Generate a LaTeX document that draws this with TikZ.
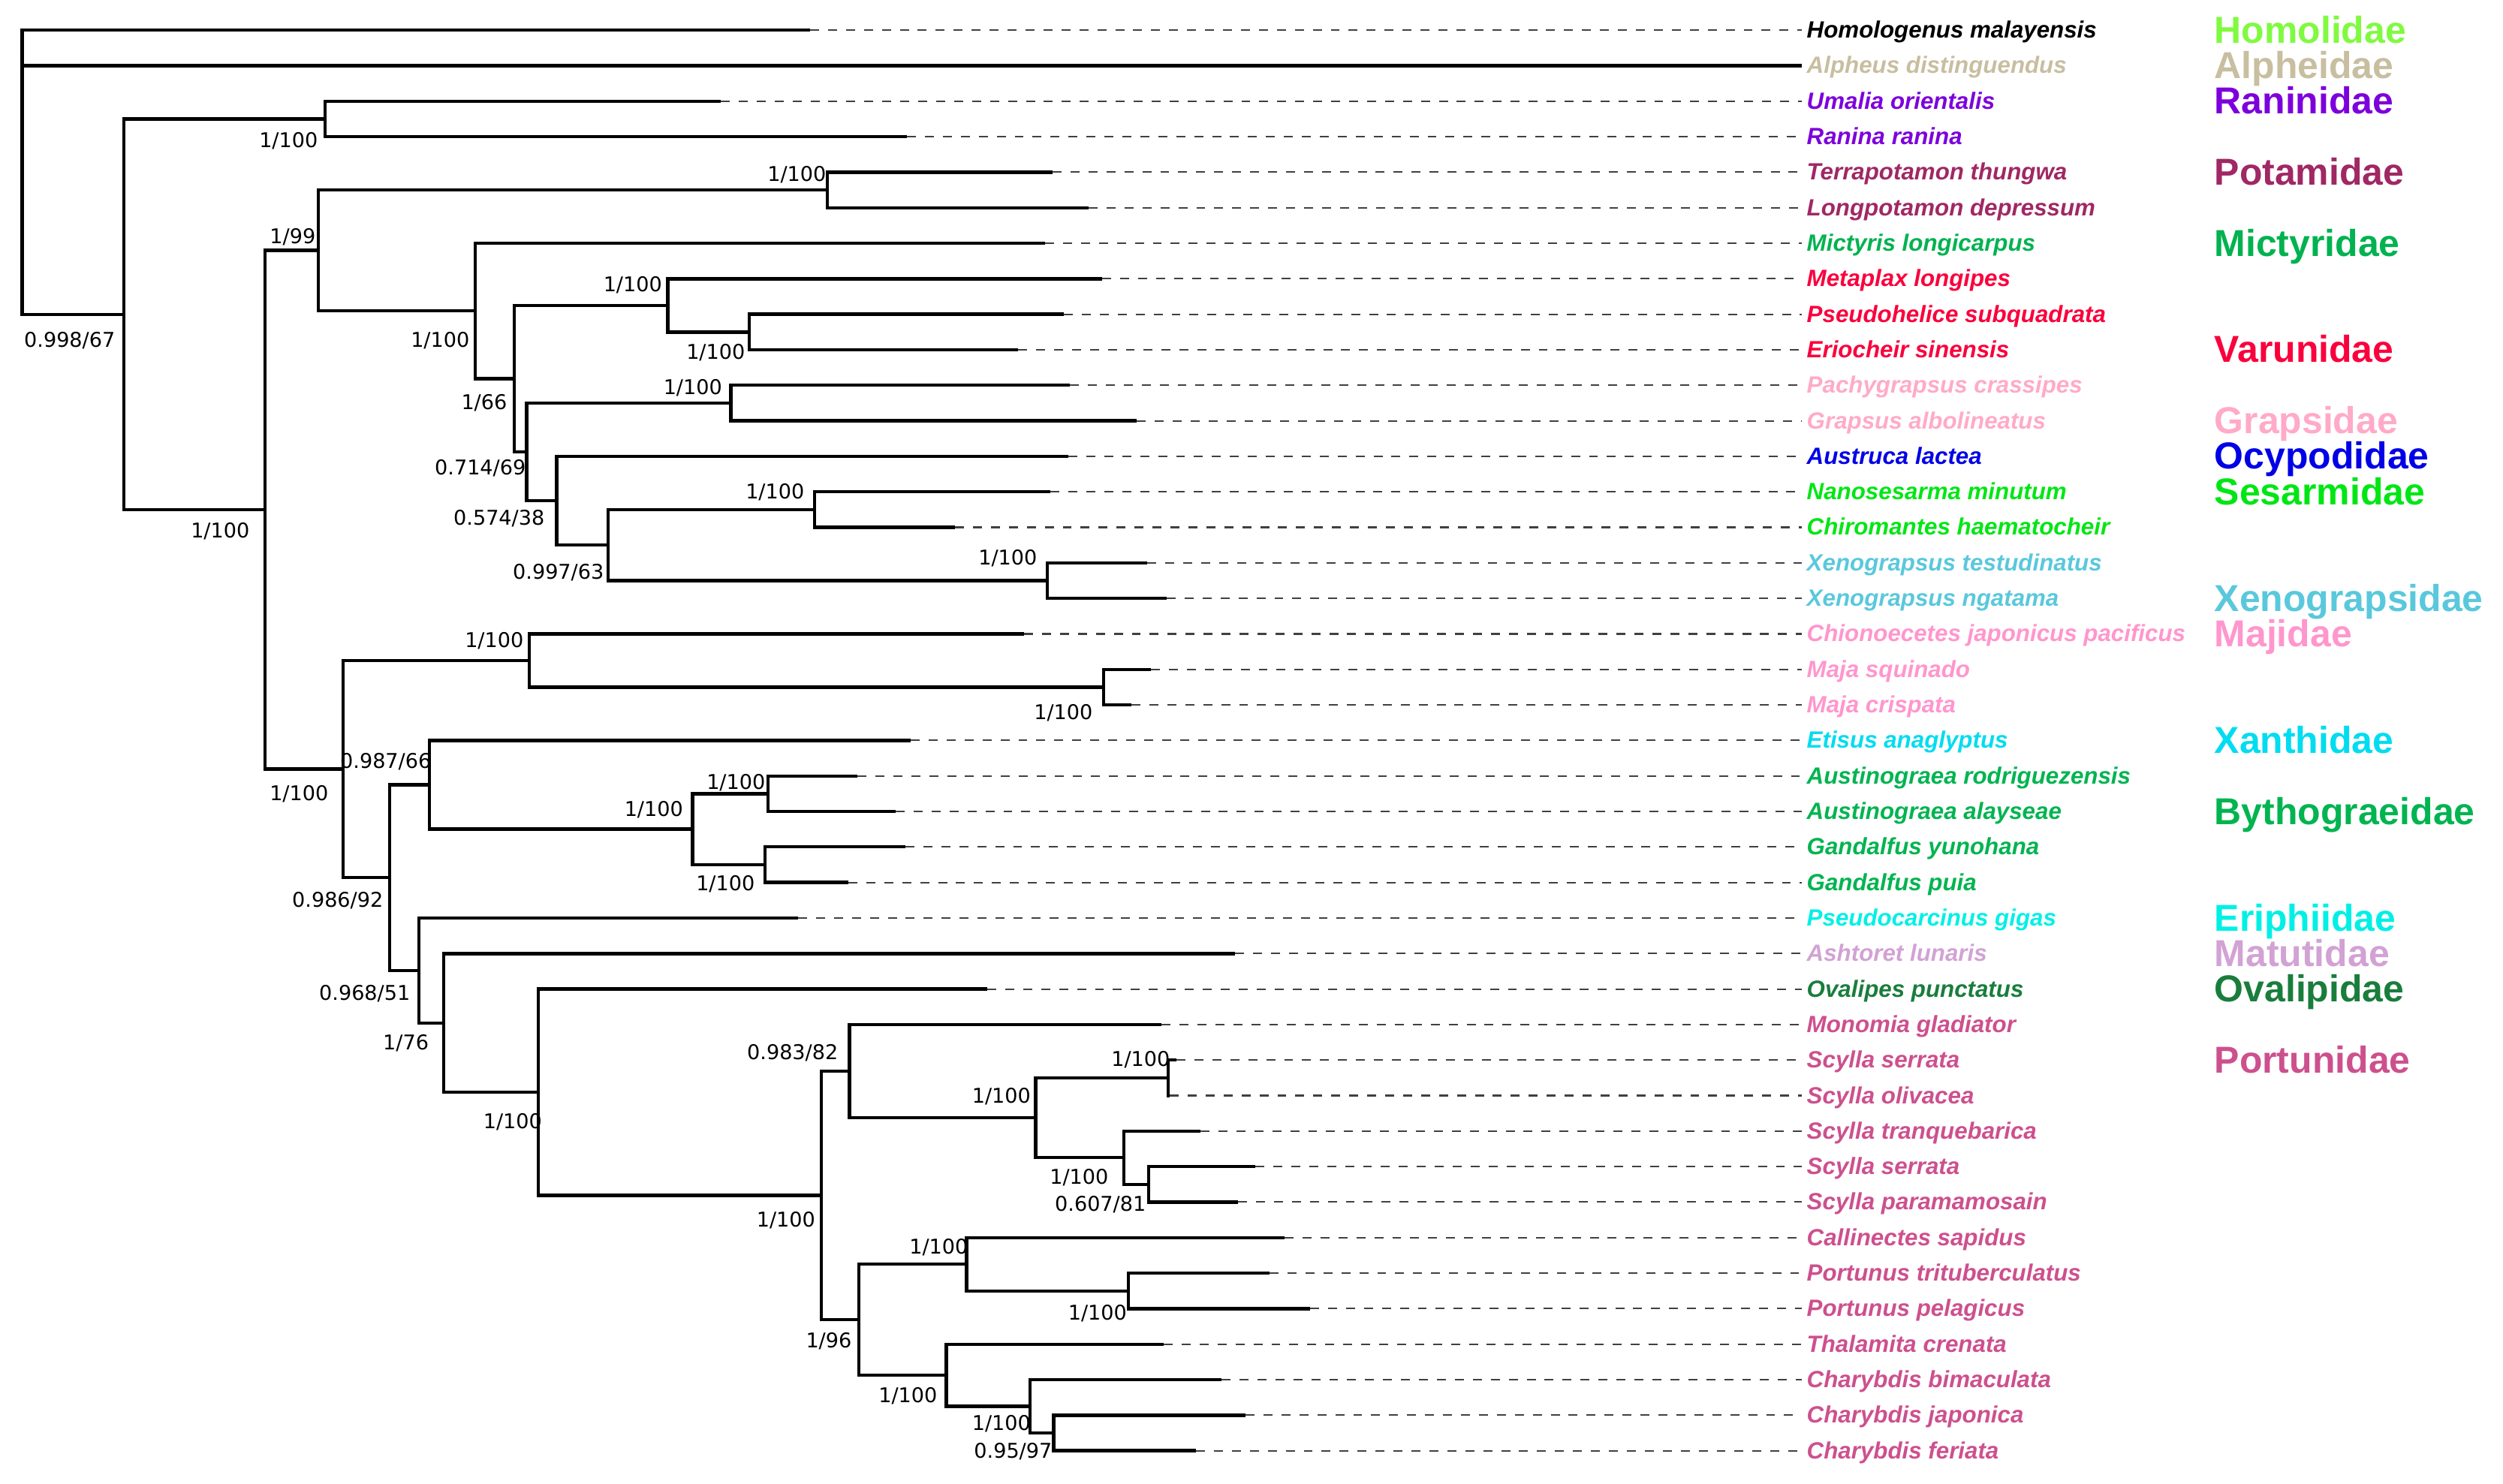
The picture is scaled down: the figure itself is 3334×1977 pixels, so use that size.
\documentclass[tikz,border=0pt]{standalone}
\usepackage{fontspec}
\setmainfont{Liberation Sans}
\newfontfamily\supfont{DejaVu Sans}
\definecolor{homol}{RGB}{128,250,64}
\definecolor{alph}{RGB}{200,190,160}
\definecolor{ranin}{RGB}{125,0,220}
\definecolor{potam}{RGB}{160,40,100}
\definecolor{mictyr}{RGB}{0,178,80}
\definecolor{varun}{RGB}{250,0,60}
\definecolor{graps}{RGB}{255,170,200}
\definecolor{ocyp}{RGB}{0,0,230}
\definecolor{sesarm}{RGB}{0,230,20}
\definecolor{xenog}{RGB}{90,200,220}
\definecolor{majid}{RGB}{255,150,205}
\definecolor{xanth}{RGB}{0,220,240}
\definecolor{bythog}{RGB}{0,180,80}
\definecolor{eriph}{RGB}{0,240,230}
\definecolor{matut}{RGB}{210,162,212}
\definecolor{ovalip}{RGB}{25,125,60}
\definecolor{portun}{RGB}{205,80,142}
\newcommand\mytip[5]{%
  \coordinate (t#1) at (#2,#3);
  \coordinate (e#1) at (2400,#3);
  \node[splabel,text=#4] (s#1) at (2406,#3+10.5) {#5};
  \draw[dashline] (t#1) -- (e#1);
}
\newcommand\bsv[4]{\node[suplabel] (b#1) at (#2,#3+9.5) {#4};}
\newcommand\famlab[4]{\node[famlabel,text=#3] (f#1) at (2949,#2+17) {#4};}
\begin{document}
\begin{tikzpicture}[x=0.01cm,y=-0.01cm,
  branch/.style={line width=1.25pt,black},
  dashline/.style={line width=0.6pt,black!75,dash pattern=on 3.4pt off 3.4pt},
  splabel/.style={anchor=base west,inner sep=0pt,font=\fontsize{8.9}{10}\selectfont\bfseries\itshape},
  famlabel/.style={anchor=base west,inner sep=0pt,font=\fontsize{14.2}{16}\selectfont\bfseries},
  suplabel/.style={anchor=base east,inner sep=0pt,font=\supfont\fontsize{7.7}{9}\selectfont}]
\useasboundingbox (0,0) rectangle (3334,1977);

% tips
\mytip{0}{1079}{40.2}{black}{Homologenus malayensis}
\coordinate (t1) at (2400,87.5);
\node[splabel,text=alph] (s1) at (2406,98) {Alpheus distinguendus};
\mytip{2}{960}{134.8}{ranin}{Umalia orientalis}
\mytip{3}{1208}{182.1}{ranin}{Ranina ranina}
\mytip{4}{1402}{229.4}{potam}{Terrapotamon thungwa}
\mytip{5}{1450}{276.8}{potam}{Longpotamon depressum}
\mytip{6}{1392}{324.1}{mictyr}{Mictyris longicarpus}
\mytip{7}{1468}{371.4}{varun}{Metaplax longipes}
\mytip{8}{1417}{418.7}{varun}{Pseudohelice subquadrata}
\mytip{9}{1356}{466.0}{varun}{Eriocheir sinensis}
\mytip{10}{1425}{513.3}{graps}{Pachygrapsus crassipes}
\mytip{11}{1514}{560.6}{graps}{Grapsus albolineatus}
\mytip{12}{1423}{607.9}{ocyp}{Austruca lactea}
\mytip{13}{1399}{655.2}{sesarm}{Nanosesarma minutum}
\mytip{14}{1272}{702.5}{sesarm}{Chiromantes haematocheir}
\mytip{15}{1528}{749.9}{xenog}{Xenograpsus testudinatus}
\mytip{16}{1554}{797.2}{xenog}{Xenograpsus ngatama}
\mytip{17}{1364}{844.5}{majid}{Chionoecetes japonicus pacificus}
\mytip{18}{1533}{891.8}{majid}{Maja squinado}
\mytip{19}{1507}{939.1}{majid}{Maja crispata}
\mytip{20}{1213}{986.4}{xanth}{Etisus anaglyptus}
\mytip{21}{1142}{1033.7}{bythog}{Austinograea rodriguezensis}
\mytip{22}{1193}{1081.0}{bythog}{Austinograea alayseae}
\mytip{23}{1206}{1128.3}{bythog}{Gandalfus yunohana}
\mytip{24}{1130}{1175.6}{bythog}{Gandalfus puia}
\mytip{25}{1063}{1223.0}{eriph}{Pseudocarcinus gigas}
\mytip{26}{1645}{1270.3}{matut}{Ashtoret lunaris}
\mytip{27}{1315}{1317.6}{ovalip}{Ovalipes punctatus}
\mytip{28}{1547}{1364.9}{portun}{Monomia gladiator}
\mytip{29}{1567}{1412.2}{portun}{Scylla serrata}
\mytip{30}{1558}{1459.5}{portun}{Scylla olivacea}
\mytip{31}{1599}{1506.8}{portun}{Scylla tranquebarica}
\mytip{32}{1672}{1554.1}{portun}{Scylla serrata}
\mytip{33}{1649}{1601.4}{portun}{Scylla paramamosain}
\mytip{34}{1711}{1648.7}{portun}{Callinectes sapidus}
\mytip{35}{1691}{1696.1}{portun}{Portunus trituberculatus}
\mytip{36}{1745}{1743.4}{portun}{Portunus pelagicus}
\mytip{37}{1550}{1790.7}{portun}{Thalamita crenata}
\mytip{38}{1627}{1838.0}{portun}{Charybdis bimaculata}
\mytip{39}{1659}{1885.3}{portun}{Charybdis japonica}
\mytip{40}{1593}{1932.6}{portun}{Charybdis feriata}

% internal nodes
\coordinate (root) at (29.5,229.5);
\coordinate (A) at (165,418.8);
\coordinate (Ran) at (433,158.45);
\coordinate (B) at (353,679.14);
\coordinate (C) at (424,333.69);
\coordinate (Pot) at (1102,253.1);
\coordinate (D) at (633,414.27);
\coordinate (E) at (685,504.44);
\coordinate (F) at (889.5,406.88);
\coordinate (G) at (998,442.35);
\coordinate (H) at (701.5,602.0);
\coordinate (I) at (973.5,536.95);
\coordinate (J) at (741.5,667.05);
\coordinate (K) at (810,726.2);
\coordinate (L) at (1085,678.85);
\coordinate (M) at (1395,773.55);
\coordinate (N) at (457,1024.59);
\coordinate (O) at (705,879.98);
\coordinate (P) at (1470,915.45);
\coordinate (Q) at (519,1169.19);
\coordinate (R) at (572,1045.53);
\coordinate (S) at (922.5,1104.65);
\coordinate (T) at (1023,1057.35);
\coordinate (U) at (1019,1151.95);
\coordinate (V) at (557.7,1292.85);
\coordinate (W) at (590.7,1362.7);
\coordinate (X) at (717,1455.09);
\coordinate (Y) at (1094,1592.58);
\coordinate (Z) at (1131.3,1426.99);
\coordinate (AA) at (1379.3,1489.07);
\coordinate (AB) at (1556,1435.85);
\coordinate (AC) at (1497,1542.28);
\coordinate (AD) at (1530,1577.75);
\coordinate (AE) at (1144,1758.16);
\coordinate (AF) at (1287.5,1684.23);
\coordinate (AG) at (1503,1719.75);
\coordinate (AH) at (1260.5,1832.09);
\coordinate (AI) at (1372,1873.48);
\coordinate (AJ) at (1403.4,1908.95);

% branches
\draw[branch] (root) |- (t0); \draw[branch] (root) |- (t1); \draw[branch] (root) |- (A);
\draw[branch] (A) |- (Ran); \draw[branch] (A) |- (B);
\draw[branch] (Ran) |- (t2); \draw[branch] (Ran) |- (t3);
\draw[branch] (B) |- (C); \draw[branch] (B) |- (N);
\draw[branch] (C) |- (Pot); \draw[branch] (C) |- (D);
\draw[branch] (Pot) |- (t4); \draw[branch] (Pot) |- (t5);
\draw[branch] (D) |- (t6); \draw[branch] (D) |- (E);
\draw[branch] (E) |- (F); \draw[branch] (E) |- (H);
\draw[branch] (F) |- (t7); \draw[branch] (F) |- (G);
\draw[branch] (G) |- (t8); \draw[branch] (G) |- (t9);
\draw[branch] (H) |- (I); \draw[branch] (H) |- (J);
\draw[branch] (I) |- (t10); \draw[branch] (I) |- (t11);
\draw[branch] (J) |- (t12); \draw[branch] (J) |- (K);
\draw[branch] (K) |- (L); \draw[branch] (K) |- (M);
\draw[branch] (L) |- (t13); \draw[branch] (L) |- (t14);
\draw[branch] (M) |- (t15); \draw[branch] (M) |- (t16);
\draw[branch] (N) |- (O); \draw[branch] (N) |- (Q);
\draw[branch] (O) |- (t17); \draw[branch] (O) |- (P);
\draw[branch] (P) |- (t18); \draw[branch] (P) |- (t19);
\draw[branch] (Q) |- (R); \draw[branch] (Q) |- (V);
\draw[branch] (R) |- (t20); \draw[branch] (R) |- (S);
\draw[branch] (S) |- (T); \draw[branch] (S) |- (U);
\draw[branch] (T) |- (t21); \draw[branch] (T) |- (t22);
\draw[branch] (U) |- (t23); \draw[branch] (U) |- (t24);
\draw[branch] (V) |- (t25); \draw[branch] (V) |- (W);
\draw[branch] (W) |- (t26); \draw[branch] (W) |- (X);
\draw[branch] (X) |- (t27); \draw[branch] (X) |- (Y);
\draw[branch] (Y) |- (Z); \draw[branch] (Y) |- (AE);
\draw[branch] (Z) |- (t28); \draw[branch] (Z) |- (AA);
\draw[branch] (AA) |- (AB); \draw[branch] (AA) |- (AC);
\draw[branch] (AB) |- (t29); \draw[branch] (AB) |- (t30);
\draw[branch] (AC) |- (t31); \draw[branch] (AC) |- (AD);
\draw[branch] (AD) |- (t32); \draw[branch] (AD) |- (t33);
\draw[branch] (AE) |- (AF); \draw[branch] (AE) |- (AH);
\draw[branch] (AF) |- (t34); \draw[branch] (AF) |- (AG);
\draw[branch] (AG) |- (t35); \draw[branch] (AG) |- (t36);
\draw[branch] (AH) |- (t37); \draw[branch] (AH) |- (AI);
\draw[branch] (AI) |- (t38); \draw[branch] (AI) |- (AJ);
\draw[branch] (AJ) |- (t39); \draw[branch] (AJ) |- (t40);

% support values
\bsv{Ran}{424}{187.5}{1/100}
\bsv{A}{154}{453}{0.998/67}
\bsv{B}{333}{707}{1/100}
\bsv{C}{421}{315}{1/99}
\bsv{Pot}{1101}{232}{1/100}
\bsv{D}{626}{453}{1/100}
\bsv{E}{676}{536}{1/66}
\bsv{F}{882.5}{378.6}{1/100}
\bsv{G}{993}{469}{1/100}
\bsv{H}{701}{623}{0.714/69}
\bsv{I}{962.5}{515.6}{1/100}
\bsv{J}{726}{690}{0.574/38}
\bsv{K}{805}{761.6}{0.997/63}
\bsv{L}{1072}{655}{1/100}
\bsv{M}{1382}{743}{1/100}
\bsv{N}{438}{1057}{1/100}
\bsv{O}{698}{853}{1/100}
\bsv{P}{1456}{949}{1/100}
\bsv{Q}{511}{1199}{0.986/92}
\bsv{R}{575}{1014}{0.987/66}
\bsv{S}{910.5}{1077.7}{1/100}
\bsv{T}{1020}{1042}{1/100}
\bsv{U}{1006}{1177}{1/100}
\bsv{V}{547}{1323}{0.968/51}
\bsv{W}{571.7}{1388.5}{1/76}
\bsv{X}{722.6}{1494}{1/100}
\bsv{Y}{1086.6}{1624.7}{1/100}
\bsv{Z}{1117}{1402.3}{0.983/82}
\bsv{AA}{1373.6}{1459.8}{1/100}
\bsv{AB}{1559}{1411.4}{1/100}
\bsv{AC}{1477}{1567.7}{1/100}
\bsv{AD}{1527}{1604.4}{0.607/81}
\bsv{AE}{1135}{1785.7}{1/96}
\bsv{AF}{1290}{1660.5}{1/100}
\bsv{AG}{1501.6}{1749}{1/100}
\bsv{AH}{1249}{1859}{1/100}
\bsv{AI}{1373.6}{1895.9}{1/100}
\bsv{AJ}{1402}{1932.6}{0.95/97}

% family names
\famlab{1}{40.2}{homol}{Homolidae}
\famlab{2}{87.5}{alph}{Alpheidae}
\famlab{3}{134.8}{ranin}{Raninidae}
\famlab{4}{229.4}{potam}{Potamidae}
\famlab{5}{324.1}{mictyr}{Mictyridae}
\famlab{6}{466.0}{varun}{Varunidae}
\famlab{7}{560.6}{graps}{Grapsidae}
\famlab{8}{607.9}{ocyp}{Ocypodidae}
\famlab{9}{655.2}{sesarm}{Sesarmidae}
\famlab{10}{797.2}{xenog}{Xenograpsidae}
\famlab{11}{844.5}{majid}{Majidae}
\famlab{12}{986.4}{xanth}{Xanthidae}
\famlab{13}{1081.0}{bythog}{Bythograeidae}
\famlab{14}{1223.0}{eriph}{Eriphiidae}
\famlab{15}{1270.3}{matut}{Matutidae}
\famlab{16}{1317.6}{ovalip}{Ovalipidae}
\famlab{17}{1412.2}{portun}{Portunidae}
\end{tikzpicture}
\end{document}
